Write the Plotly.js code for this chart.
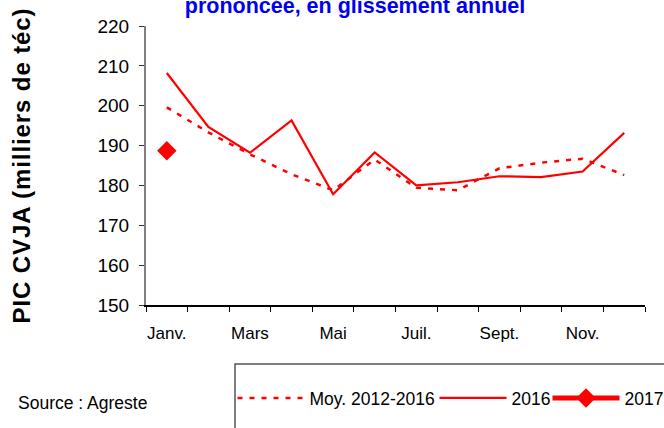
<!DOCTYPE html>
<html>
<head>
<meta charset="utf-8">
<script src="https://cdn.plot.ly/plotly-3.0.1.min.js"></script>
<style>
html,body{margin:0;padding:0;background:#fff;}
#chart{width:664px;height:428px;}
.ytitle{letter-spacing:0.9px;}
</style>
</head>
<body>
<div id="chart"></div>
<script>
// ---- data ----
const months = ['Janv.','Févr.','Mars','Avr.','Mai','Juin','Juil.','Août','Sept.','Oct.','Nov.','Déc.'];
const tickLabels = ['Janv.','','Mars','','Mai','','Juil.','','Sept.','','Nov.',''];
const moy20122016 = [199.6, 193.3, 187.8, 182.8, 178.8, 186.5, 179.4, 178.8, 184.3, 185.7, 186.7, 182.6];
const y2016 = [208.2, 194.7, 188.2, 196.3, 177.8, 188.3, 180.0, 180.8, 182.3, 182.1, 183.5, 193.2];
const months2017 = ['Janv.'];
const y2017 = [188.7];
const yTicks = [150, 160, 170, 180, 190, 200, 210, 220];

const FONT = '"Liberation Sans", Arial, sans-serif';
const RED = '#ff0000';

const traces = [
  {
    x: months, y: moy20122016, name: 'Moy. 2012-2016', type: 'scatter', mode: 'lines',
    line: {color: RED, width: 2.5, dash: '5px,7px'}, legend: 'legend'
  },
  {
    x: months, y: y2016, name: '2016', type: 'scatter', mode: 'lines',
    line: {color: RED, width: 2.2}, legend: 'legend2'
  },
  {
    x: months2017, y: y2017, name: '2017', type: 'scatter', mode: 'lines+markers',
    line: {color: RED, width: 5},
    marker: {symbol: 'diamond', size: 15, color: RED}, legend: 'legend3'
  }
];

// plot area in pixels: x 146..645, y 26..305
const W = 664, H = 428;
const px = v => (v - 146) / 499;
const py = v => (305 - v) / 279;

function leg(xpix) {
  return {
    orientation: 'h',
    xref: 'container', yref: 'container',
    x: xpix / W, xanchor: 'left',
    y: 1 - 398 / H, yanchor: 'middle',
    font: {family: FONT, size: 17.5, color: '#000'},
    itemwidth: 67,
    bgcolor: 'rgba(0,0,0,0)', borderwidth: 0
  };
}

const layout = {
  width: W, height: H,
  margin: {l: 146, r: 19, t: 26, b: 123},
  paper_bgcolor: '#fff', plot_bgcolor: '#fff',
  showlegend: true,
  title: {
    text: '<b>prononcée, en glissement annuel</b>',
    font: {family: FONT, size: 21.5, color: '#0000ee'},
    x: 355 / W, xanchor: 'center', xref: 'container',
    y: 1 - 12.5 / H, yanchor: 'bottom', yref: 'container'
  },
  xaxis: {
    type: 'category', categoryorder: 'array', categoryarray: months,
    range: [-0.5, 11.5],
    tickmode: 'array', tickvals: months, ticktext: tickLabels,
    tickangle: 0,
    tickson: 'boundaries', ticks: 'outside', ticklen: 5, tickcolor: '#000', tickwidth: 1,
    showline: true, linecolor: '#000', linewidth: 1.5,
    showgrid: false, zeroline: false,
    tickfont: {family: FONT, size: 17, color: '#000'},
    ticklabelstandoff: 12,
    automargin: false,
    fixedrange: true
  },
  yaxis: {
    range: [150, 220], tickmode: 'array', tickvals: yTicks,
    ticks: 'outside', ticklen: 5, tickcolor: '#333', tickwidth: 1,
    showline: true, linecolor: '#808080', linewidth: 2,
    showgrid: false, zeroline: false,
    tickfont: {family: FONT, size: 19, color: '#000'},
    ticklabelstandoff: 6,
    title: {
      text: '<b>PIC CVJA (milliers de téc)</b>',
      font: {family: FONT, size: 24, color: '#000'},
      standoff: 60
    },
    automargin: false,
    fixedrange: true
  },
  legend: leg(232.5),
  legend2: leg(434.5),
  legend3: leg(547.5),
  shapes: [
    {
      type: 'rect', xref: 'paper', yref: 'paper',
      x0: px(235), x1: px(680),
      y0: py(364), y1: py(440),
      line: {color: '#555', width: 1.5}, fillcolor: 'rgba(0,0,0,0)', layer: 'below'
    }
  ],
  annotations: [
    {
      text: 'Source : Agreste', xref: 'paper', yref: 'paper',
      x: px(16), xanchor: 'left',
      y: py(403), yanchor: 'middle',
      showarrow: false,
      font: {family: FONT, size: 17.5, color: '#000'}
    }
  ]
};

Plotly.newPlot('chart', traces, layout, {displayModeBar: false, staticPlot: true});
</script>
</body>
</html>
